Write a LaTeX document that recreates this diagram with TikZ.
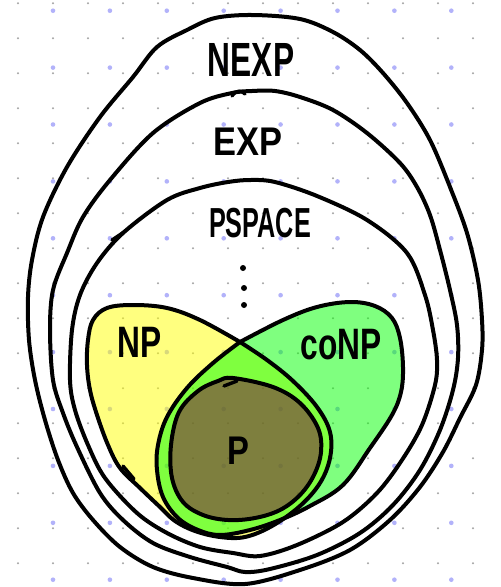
\documentclass[tikz,border=0pt]{standalone}
\usepackage{fontspec}
\setmainfont{Liberation Sans}
\newcommand{\handlbl}[3]{\scalebox{#2}[1]{\fontsize{#1}{#1}\selectfont #3}}
\definecolor{npyellow}{RGB}{255,255,0}
\definecolor{conpgreen}{RGB}{0,255,0}
\definecolor{pshade}{RGB}{126,0,62}
\definecolor{griddotc}{RGB}{165,165,165}
\definecolor{bluedotc}{RGB}{178,178,250}
\begin{document}
\begin{tikzpicture}[x=1pt,y=-1pt,line cap=round,line join=round,
  outline/.style={draw=black,line width=4pt},
  tickmark/.style={draw=black,line width=3.4pt},
  lbl/.style={inner sep=0pt,text=black,font=\bfseries},
  dotn/.style={circle,fill=black,inner sep=0pt,minimum size=6pt}]
\useasboundingbox (0,0) rectangle (501,587);
\fill[white] (0,0) rectangle (501,587);
% dot grids
\foreach \i in {0,...,13} \foreach \j in {0,...,16}
  \fill[griddotc] (18+35*\i,3.3+35*\j) circle (1.1pt);
\foreach \i in {0,...,7} \foreach \j in {0,...,10}
  \fill[bluedotc] (53+56.9*\i,10.7+56.9*\j) circle (2.3pt);
% region fills
\fill[npyellow,fill opacity=0.5] plot[smooth,tension=0.6] coordinates {
 (240,342) (200,320) (167,308) (133,305) (107,308) (93,320) (88,340) (87,365)
 (90,390) (97,415) (108,445) (120,468) (140,488) (160,507) (175,521) (195,531)
 (220,537) (245,537) (272,526) (300,506) (320,483) (330,458) (330,432) (317,407)
 (293,381) (267,360) (240,342)} -- cycle;
\fill[conpgreen,fill opacity=0.5] plot[smooth,tension=0.6] coordinates {
 (240,342) (283,320) (317,307) (350,302) (375,306) (392,318) (400,338) (403,367)
 (401,392) (392,415) (370,448) (343,485) (310,506) (280,520) (250,530) (220,535)
 (198,530) (178,518) (163,497) (157,470) (158,445) (167,417) (187,388) (213,363)
 (240,342)} -- cycle;
\fill[pshade,fill opacity=0.5] plot[smooth cycle,tension=0.6] coordinates {
 (233,378) (273,387) (300,403) (318,428) (321,452) (314,475) (300,495) (280,510)
 (255,518) (228,520) (203,515) (183,502) (172,478) (171,445) (179,412) (198,391)
 (218,381)};
% outlines
\draw[outline] plot[smooth,tension=0.6] coordinates {
 (240,342) (200,320) (167,308) (133,305) (107,308) (93,320) (88,340) (87,365)
 (90,390) (97,415) (108,445) (120,468) (140,488) (160,507) (175,521) (195,531)
 (220,537) (245,537) (272,526) (300,506) (320,483) (330,458) (330,432) (317,407)
 (293,381) (267,360) (240,342)};
\draw[outline] plot[smooth,tension=0.6] coordinates {
 (240,342) (283,320) (317,307) (350,302) (375,306) (392,318) (400,338) (403,367)
 (401,392) (392,415) (370,448) (343,485) (310,506) (280,520) (250,530) (220,535)
 (198,530) (178,518) (163,497) (157,470) (158,445) (167,417) (187,388) (213,363)
 (240,342)};
\draw[outline] plot[smooth cycle,tension=0.6] coordinates {
 (233,378) (273,387) (300,403) (318,428) (321,452) (314,475) (300,495) (280,510)
 (255,518) (228,520) (203,515) (183,502) (172,478) (171,445) (179,412) (198,391)
 (218,381)};
% NEXP loop
\draw[outline] plot[smooth cycle,tension=0.55] coordinates {
 (253,15) (300,19) (333,32) (360,50) (383,73) (407,103) (430,140) (450,187)
 (467,233) (478,280) (482,320) (482,350) (476,385) (460,418) (443,452) (420,487)
 (390,520) (350,550) (300,570) (245,584) (193,578) (153,567) (120,547) (93,520)
 (73,493) (58,460) (45,420) (35,380) (29,340) (28,297) (32,260) (43,217)
 (67,167) (100,117) (133,77) (157,47) (187,30) (215,18)};
% EXP loop
\draw[outline] plot[smooth cycle,tension=0.55] coordinates {
 (252,91) (275,91) (300,97) (333,110) (367,133) (400,163) (417,187) (430,215)
 (440,250) (450,290) (457,325) (458,358) (453,390) (440,430) (420,470) (393,505)
 (360,533) (317,555) (270,569) (245,572) (227,567) (190,557) (153,543) (123,520)
 (100,493) (77,447) (63,413) (53,380) (50,330) (53,290) (67,253) (83,217)
 (110,180) (153,133) (200,103) (232,93)};
% PSPACE loop
\draw[outline] plot[smooth cycle,tension=0.55] coordinates {
 (250,180) (275,182) (317,196) (367,220) (407,253) (425,295) (433,330) (437,360)
 (435,385) (422,425) (402,460) (377,493) (343,522) (297,545) (260,556) (233,553)
 (200,547) (167,533) (137,513) (105,478) (88,445) (75,410) (70,380) (72,330)
 (80,295) (97,263) (123,233) (167,200) (200,188) (228,182)};
% small pen ticks
\draw[tickmark] (112,240) -- (124,232);
\draw[tickmark] (123,466) -- (134,479);
\draw[tickmark] (224,386) -- (237,381);
\draw[tickmark] (232,96) .. controls (236,90) and (242,90) .. (245,94);
% labels
\node[lbl] (nexp) at (251,60) {\handlbl{48}{0.66}{NEXP}};
\node[lbl] (exp) at (248,142) {\handlbl{40}{0.86}{EXP}};
\node[lbl] (pspace) at (260,223) {\handlbl{42}{0.6}{PSPACE}};
\node[lbl] (np) at (140,342) {\handlbl{44}{0.72}{NP}};
\node[lbl] (conp) at (341,345) {\handlbl{44}{0.72}{coNP}};
\node[lbl] (p) at (238,451) {\handlbl{40}{0.82}{P}};
% vertical ellipsis
\node[dotn] (d1) at (243,268) {};
\node[dotn] (d2) at (244,288) {};
\node[dotn] (d3) at (244,305) {};
\end{tikzpicture}
\end{document}
